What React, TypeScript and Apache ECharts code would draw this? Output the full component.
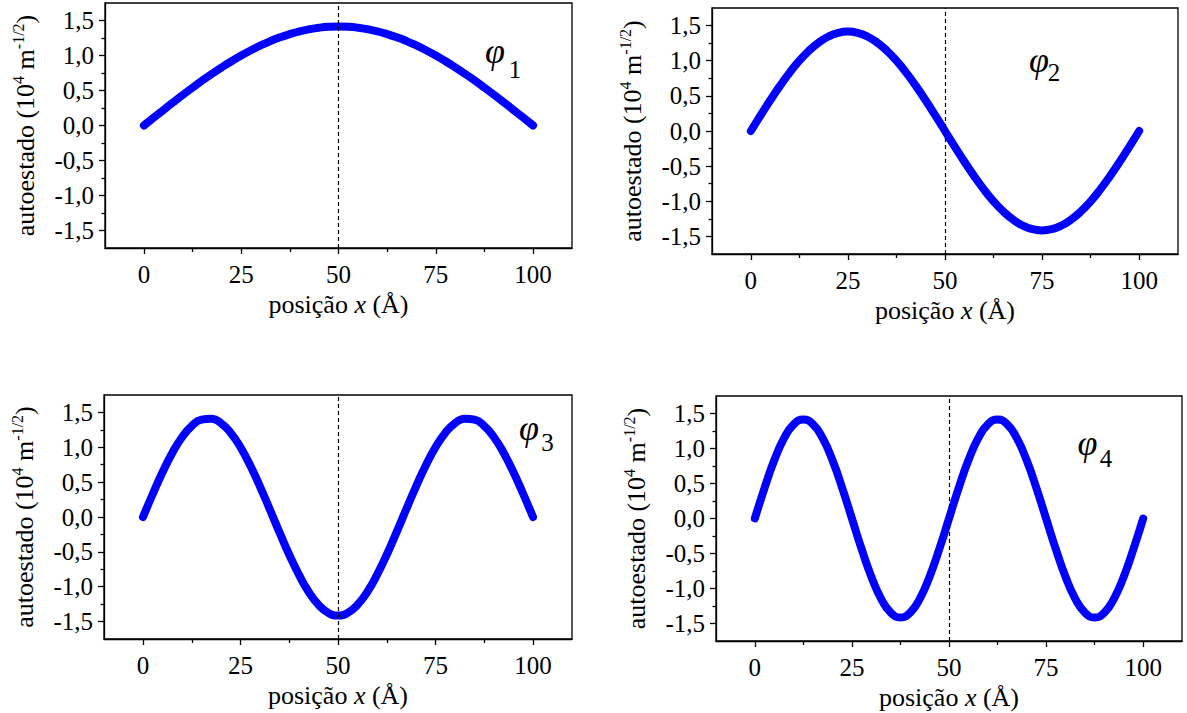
import React, { useEffect, useRef } from 'react';
import * as echarts from 'echarts';

// position x (Å)
const positions = [
  0, 2.5, 5, 7.5, 10, 12.5, 15, 17.5, 20, 22.5, 25, 27.5, 30, 32.5, 35, 37.5, 40, 42.5, 45, 47.5,
  50, 52.5, 55, 57.5, 60, 62.5, 65, 67.5, 70, 72.5, 75, 77.5, 80, 82.5, 85, 87.5, 90, 92.5, 95, 97.5, 100,
];

// eigenstates (10^4 m^-1/2)
const phi1 = [
  0, 0.111, 0.221, 0.33, 0.437, 0.541, 0.642, 0.739, 0.831, 0.918, 1.0, 1.075, 1.144, 1.206, 1.26, 1.306, 1.345, 1.375, 1.397, 1.41,
  1.414, 1.41, 1.397, 1.375, 1.345, 1.306, 1.26, 1.206, 1.144, 1.075, 1.0, 0.918, 0.831, 0.739, 0.642, 0.541, 0.437, 0.33, 0.221, 0.111, 0,
];
const phi2 = [
  0, 0.221, 0.437, 0.642, 0.831, 1.0, 1.144, 1.26, 1.345, 1.397, 1.414, 1.397, 1.345, 1.26, 1.144, 1.0, 0.831, 0.642, 0.437, 0.221,
  0, -0.221, -0.437, -0.642, -0.831, -1.0, -1.144, -1.26, -1.345, -1.397, -1.414, -1.397, -1.345, -1.26, -1.144, -1.0, -0.831, -0.642, -0.437, -0.221, 0,
];
const phi3 = [
  0, 0.33, 0.642, 0.918, 1.144, 1.306, 1.397, 1.41, 1.345, 1.206, 1.0, 0.739, 0.437, 0.111, -0.221, -0.541, -0.831, -1.075, -1.26, -1.375,
  -1.414, -1.375, -1.26, -1.075, -0.831, -0.541, -0.221, 0.111, 0.437, 0.739, 1.0, 1.206, 1.345, 1.41, 1.397, 1.306, 1.144, 0.918, 0.642, 0.33, 0,
];
const phi4 = [
  0, 0.437, 0.831, 1.144, 1.345, 1.414, 1.345, 1.144, 0.831, 0.437, 0, -0.437, -0.831, -1.144, -1.345, -1.414, -1.345, -1.144, -0.831, -0.437,
  0, 0.437, 0.831, 1.144, 1.345, 1.414, 1.345, 1.144, 0.831, 0.437, 0, -0.437, -0.831, -1.144, -1.345, -1.414, -1.345, -1.144, -0.831, -0.437, 0,
];

const stateSeries = [phi1, phi2, phi3, phi4];
const stateIndices = ['1', '2', '3', '4'];

const xMajorTicks = [0, 25, 50, 75, 100];
const xMinorTicks = [12.5, 37.5, 62.5, 87.5];
const yMajorTicks = [-1.5, -1, -0.5, 0, 0.5, 1, 1.5];
const yMinorTicks = [-1.25, -0.75, -0.25, 0.25, 0.75, 1.25];
const nodeLine = 50;

const FONT = 'Liberation Serif';

const grids = [
  { left: 105, top: 3, width: 467, height: 245 },
  { left: 712, top: 8, width: 466, height: 246 },
  { left: 104, top: 395, width: 468, height: 244 },
  { left: 716, top: 396, width: 466, height: 245 },
];

const labelPos = [
  { px: 495, py: 51, sx: 515, sy: 69.5 },
  { px: 1039, py: 60, sx: 1054, sy: 72.5 },
  { px: 529, py: 427.5, sx: 547.5, sy: 442.5 },
  { px: 1087.5, py: 443, sx: 1106, sy: 458 },
];

function buildOption() {
  const xAxis: any[] = [];
  const yAxis: any[] = [];
  const series: any[] = [];
  const graphic: any[] = [];
  const black = '#000';

  grids.forEach((_, i) => {
    xAxis.push({
      gridIndex: i,
      type: 'value',
      position: 'bottom',
      min: -10,
      max: 110,
      axisLine: { show: true, onZero: false, lineStyle: { color: black, width: 1.3 } },
      axisTick: { show: true, customValues: xMajorTicks, length: 6, lineStyle: { color: black, width: 1.3 } },
      axisLabel: {
        customValues: xMajorTicks,
        margin: 14,
        fontFamily: FONT,
        fontSize: 25,
        color: black,
      },
      splitLine: { show: false },
      name: '{a|posição }{i|x}{a| (Å)}',
      nameLocation: 'middle',
      nameGap: 43,
      nameTextStyle: {
        fontFamily: FONT,
        fontSize: 26,
        color: black,
        rich: {
          a: { fontFamily: FONT, fontSize: 26, color: black },
          i: { fontFamily: FONT, fontSize: 26, fontStyle: 'italic', color: black },
        },
      },
    });
    xAxis.push({
      gridIndex: i,
      type: 'value',
      position: 'bottom',
      min: -10,
      max: 110,
      axisLine: { show: false, onZero: false },
      axisTick: { show: true, customValues: xMinorTicks, length: 4, lineStyle: { color: black, width: 1.3 } },
      axisLabel: { show: false },
      splitLine: { show: false },
    });
    yAxis.push({
      gridIndex: i,
      type: 'value',
      position: 'left',
      min: -1.75,
      max: 1.75,
      axisLine: { show: true, onZero: false, lineStyle: { color: black, width: 1.3 } },
      axisTick: { show: true, customValues: yMajorTicks, length: 6, lineStyle: { color: black, width: 1.3 } },
      axisLabel: {
        customValues: yMajorTicks,
        margin: 11,
        fontFamily: FONT,
        fontSize: 25,
        color: black,
        formatter: (v: number) => v.toFixed(1).replace('.', ','),
      },
      splitLine: { show: false },
      name: '{a|autoestado (10}{s|4}{a| m}{s|-1/2}{a|)}',
      nameLocation: 'middle',
      nameRotate: 90,
      nameGap: 65,
      nameTextStyle: {
        fontFamily: FONT,
        fontSize: 26,
        color: black,
        rich: {
          a: { fontFamily: FONT, fontSize: 26, lineHeight: 30, color: black },
          s: { fontFamily: FONT, fontSize: 16, lineHeight: 16, verticalAlign: 'top', color: black },
        },
      },
    });
    yAxis.push({
      gridIndex: i,
      type: 'value',
      position: 'left',
      min: -1.75,
      max: 1.75,
      axisLine: { show: false, onZero: false },
      axisTick: { show: true, customValues: yMinorTicks, length: 3.5, lineStyle: { color: black, width: 1.3 } },
      axisLabel: { show: false },
      splitLine: { show: false },
    });

    series.push({
      type: 'line',
      xAxisIndex: 2 * i,
      yAxisIndex: 2 * i,
      data: positions.map((x, k) => [x, stateSeries[i][k]]),
      showSymbol: false,
      smooth: true,
      lineStyle: { color: '#0000ff', width: 8, cap: 'round', join: 'round' },
      markLine: {
        silent: true,
        symbol: ['none', 'none'],
        label: { show: false },
        lineStyle: { color: black, width: 1.2, type: [4, 3] },
        data: [{ xAxis: nodeLine }],
      },
      z: 2,
    });

    const lp = labelPos[i];
    graphic.push({
      type: 'text',
      x: lp.px,
      y: lp.py,
      style: {
        text: 'φ',
        fontFamily: FONT,
        fontStyle: 'italic',
        fontSize: 36,
        fill: black,
        align: 'center',
        verticalAlign: 'middle',
      },
    });
    graphic.push({
      type: 'text',
      x: lp.sx,
      y: lp.sy,
      style: {
        text: stateIndices[i],
        fontFamily: FONT,
        fontSize: 25,
        fill: black,
        align: 'center',
        verticalAlign: 'middle',
      },
    });
  });

  return {
    animation: false,
    backgroundColor: '#ffffff',
    grid: grids.map((g) => ({ ...g, show: true, borderColor: '#000', borderWidth: 1.3, backgroundColor: 'transparent' })),
    xAxis,
    yAxis,
    series,
    graphic,
  };
}

export default function App() {
  const ref = useRef<HTMLDivElement>(null);
  useEffect(() => {
    if (!ref.current) return;
    const chart = echarts.init(ref.current, undefined, { renderer: 'svg' });
    chart.setOption(buildOption() as any);
    return () => chart.dispose();
  }, []);
  return (
    <div
      ref={ref}
      style={{ position: 'absolute', left: 0, top: 0, width: 1187, height: 713, background: '#fff' }}
    />
  );
}
